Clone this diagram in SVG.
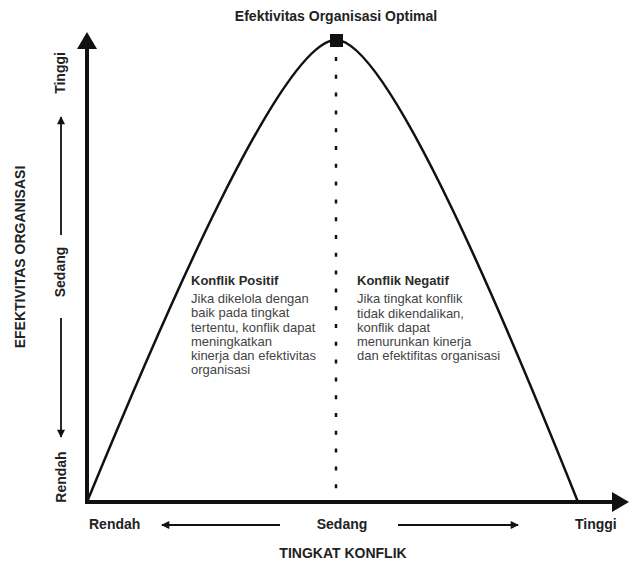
<svg xmlns="http://www.w3.org/2000/svg" width="630" height="564" viewBox="0 0 630 564">
<defs>
<style>
text{font-family:"Liberation Sans",Arial,sans-serif;}
.b{font-weight:bold;fill:#222;font-size:14px;}
.h{font-weight:bold;fill:#2a2a2a;font-size:13px;}
.t{fill:#444;font-size:13px;}
.small{stroke:#111;stroke-width:1.8;fill:none;}
</style>
<marker id="ah" viewBox="0 0 10 10" refX="9" refY="5" markerWidth="5" markerHeight="4.5" orient="auto-start-reverse" markerUnits="strokeWidth">
<path d="M0,0 L10,5 L0,10 z" fill="#111"/>
</marker>
</defs>
<rect width="630" height="564" fill="#fff"/>

<g id="axes">
<line x1="87" y1="504" x2="87" y2="47" stroke="#111" stroke-width="4"/>
<polygon points="77,49 97,49 87,32" fill="#111"/>
<line x1="85" y1="502" x2="614" y2="502" stroke="#111" stroke-width="4"/>
<polygon points="612,492 612,512 629,502" fill="#111"/>
</g>

<g id="curve">
<path d="M87,502 C157,332 281,40 336,40 C389,40 510,332 578,502" fill="none" stroke="#111" stroke-width="2.5"/>
<line x1="336" y1="57" x2="336" y2="490" stroke="#111" stroke-width="2.5" stroke-dasharray="4 13.8"/>
<rect id="peak" x="330" y="34" width="13" height="13" fill="#111"/>
</g>

<g id="title">
<text class="b" x="336" y="21" text-anchor="middle">Efektivitas Organisasi Optimal</text>
</g>

<g id="y-labels">
<text class="b" transform="translate(25,257) rotate(-90)" text-anchor="middle">EFEKTIVITAS ORGANISASI</text>
<text class="b" transform="translate(65,73) rotate(-90)" text-anchor="middle">Tinggi</text>
<text class="b" transform="translate(65,272) rotate(-90)" text-anchor="middle">Sedang</text>
<text class="b" transform="translate(66,477) rotate(-90)" text-anchor="middle">Rendah</text>
</g>

<g id="connectors">
<line class="small" x1="61" y1="235" x2="61" y2="117" marker-end="url(#ah)"/>
<line class="small" x1="61" y1="318" x2="61" y2="437" marker-end="url(#ah)"/>
<line class="small" x1="280" y1="525" x2="162" y2="525" marker-end="url(#ah)"/>
<line class="small" x1="398" y1="525" x2="518" y2="525" marker-end="url(#ah)"/>
</g>

<g id="x-labels">
<text class="b" x="89" y="529">Rendah</text>
<text class="b" x="342" y="529" text-anchor="middle">Sedang</text>
<text class="b" x="575" y="529">Tinggi</text>
<text class="b" x="343" y="558" text-anchor="middle">TINGKAT KONFLIK</text>
</g>

<g id="konflik-positif">
<text class="h" x="191" y="285">Konflik Positif</text>
<text class="t" x="191" y="303">Jika dikelola dengan</text>
<text class="t" x="191" y="317">baik pada tingkat</text>
<text class="t" x="191" y="332">tertentu, konflik dapat</text>
<text class="t" x="191" y="346">meningkatkan</text>
<text class="t" x="191" y="360">kinerja dan efektivitas</text>
<text class="t" x="191" y="374">organisasi</text>
</g>

<g id="konflik-negatif">
<text class="h" x="357" y="285">Konflik Negatif</text>
<text class="t" x="357" y="303">Jika tingkat konflik</text>
<text class="t" x="357" y="318">tidak dikendalikan,</text>
<text class="t" x="357" y="332">konflik dapat</text>
<text class="t" x="357" y="346">menurunkan kinerja</text>
<text class="t" x="357" y="360">dan efektifitas organisasi</text>
</g>
</svg>
